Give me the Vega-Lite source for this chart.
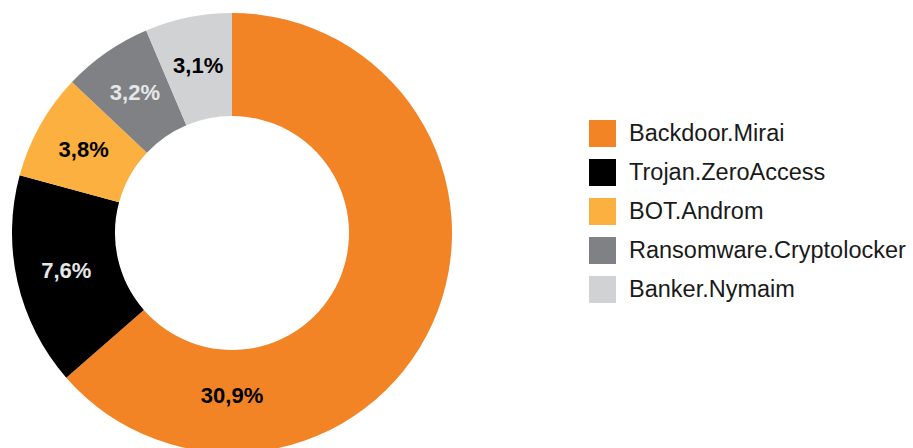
{
  "$schema": "https://vega.github.io/schema/vega-lite/v6.json",
  "width": 464,
  "height": 466,
  "padding": 0,
  "autosize": {"type": "pad"},
  "background": "white",
  "config": {"view": {"stroke": null}},
  "data": {
    "values": [
      {"idx": 1, "name": "Backdoor.Mirai", "value": 30.9, "label": "30,9%"},
      {"idx": 2, "name": "Trojan.ZeroAccess", "value": 7.6, "label": "7,6%"},
      {"idx": 3, "name": "BOT.Androm", "value": 3.8, "label": "3,8%"},
      {"idx": 4, "name": "Ransomware.Cryptolocker", "value": 3.2, "label": "3,2%"},
      {"idx": 5, "name": "Banker.Nymaim", "value": 3.1, "label": "3,1%"}
    ]
  },
  "layer": [
    {
      "mark": {"type": "arc", "outerRadius": 220, "innerRadius": 117, "strokeWidth": 0},
      "encoding": {
        "theta": {"field": "value", "type": "quantitative", "stack": true},
        "order": {"field": "idx", "type": "quantitative"},
        "color": {
          "field": "name",
          "type": "nominal",
          "scale": {
            "domain": ["Backdoor.Mirai", "Trojan.ZeroAccess", "BOT.Androm", "Ransomware.Cryptolocker", "Banker.Nymaim"],
            "range": ["#F38426", "#000000", "#FBB040", "#808184", "#D1D2D4"]
          },
          "legend": {
            "orient": "none",
            "legendX": 589,
            "legendY": 120,
            "title": null,
            "symbolType": "square",
            "symbolSize": 729,
            "symbolStrokeWidth": 0,
            "symbolOpacity": 1,
            "labelFont": "Liberation Sans",
            "labelFontSize": 23.5,
            "labelColor": "#1A1A1A",
            "labelOffset": 13,
            "rowPadding": 12,
            "padding": 0,
            "labelLimit": 400
          }
        }
      }
    },
    {
      "mark": {"type": "text", "radius": 170, "font": "Liberation Sans", "fontWeight": "bold", "fontSize": 22, "align": "center", "baseline": "middle"},
      "encoding": {
        "theta": {"field": "value", "type": "quantitative", "stack": true},
        "order": {"field": "idx", "type": "quantitative"},
        "detail": {"field": "name", "type": "nominal"},
        "text": {"field": "label", "type": "nominal"},
        "opacity": {"condition": {"test": "datum.name === 'Backdoor.Mirai'", "value": 0}, "value": 1},
        "color": {"condition": {"test": "datum.name === 'Trojan.ZeroAccess' || datum.name === 'Ransomware.Cryptolocker'", "value": "#E6E7E8"}, "value": "#000000"}
      }
    },
    {
      "transform": [{"filter": "datum.name === 'Backdoor.Mirai'"}],
      "mark": {"type": "text", "radius": 163, "font": "Liberation Sans", "fontWeight": "bold", "fontSize": 22, "align": "center", "baseline": "middle", "color": "#000000"},
      "encoding": {
        "theta": {"field": "value", "type": "quantitative", "stack": true, "scale": {"zero": true}},
        "text": {"field": "label", "type": "nominal"}
      }
    }
  ],
  "resolve": {"scale": {"theta": "independent"}}
}
